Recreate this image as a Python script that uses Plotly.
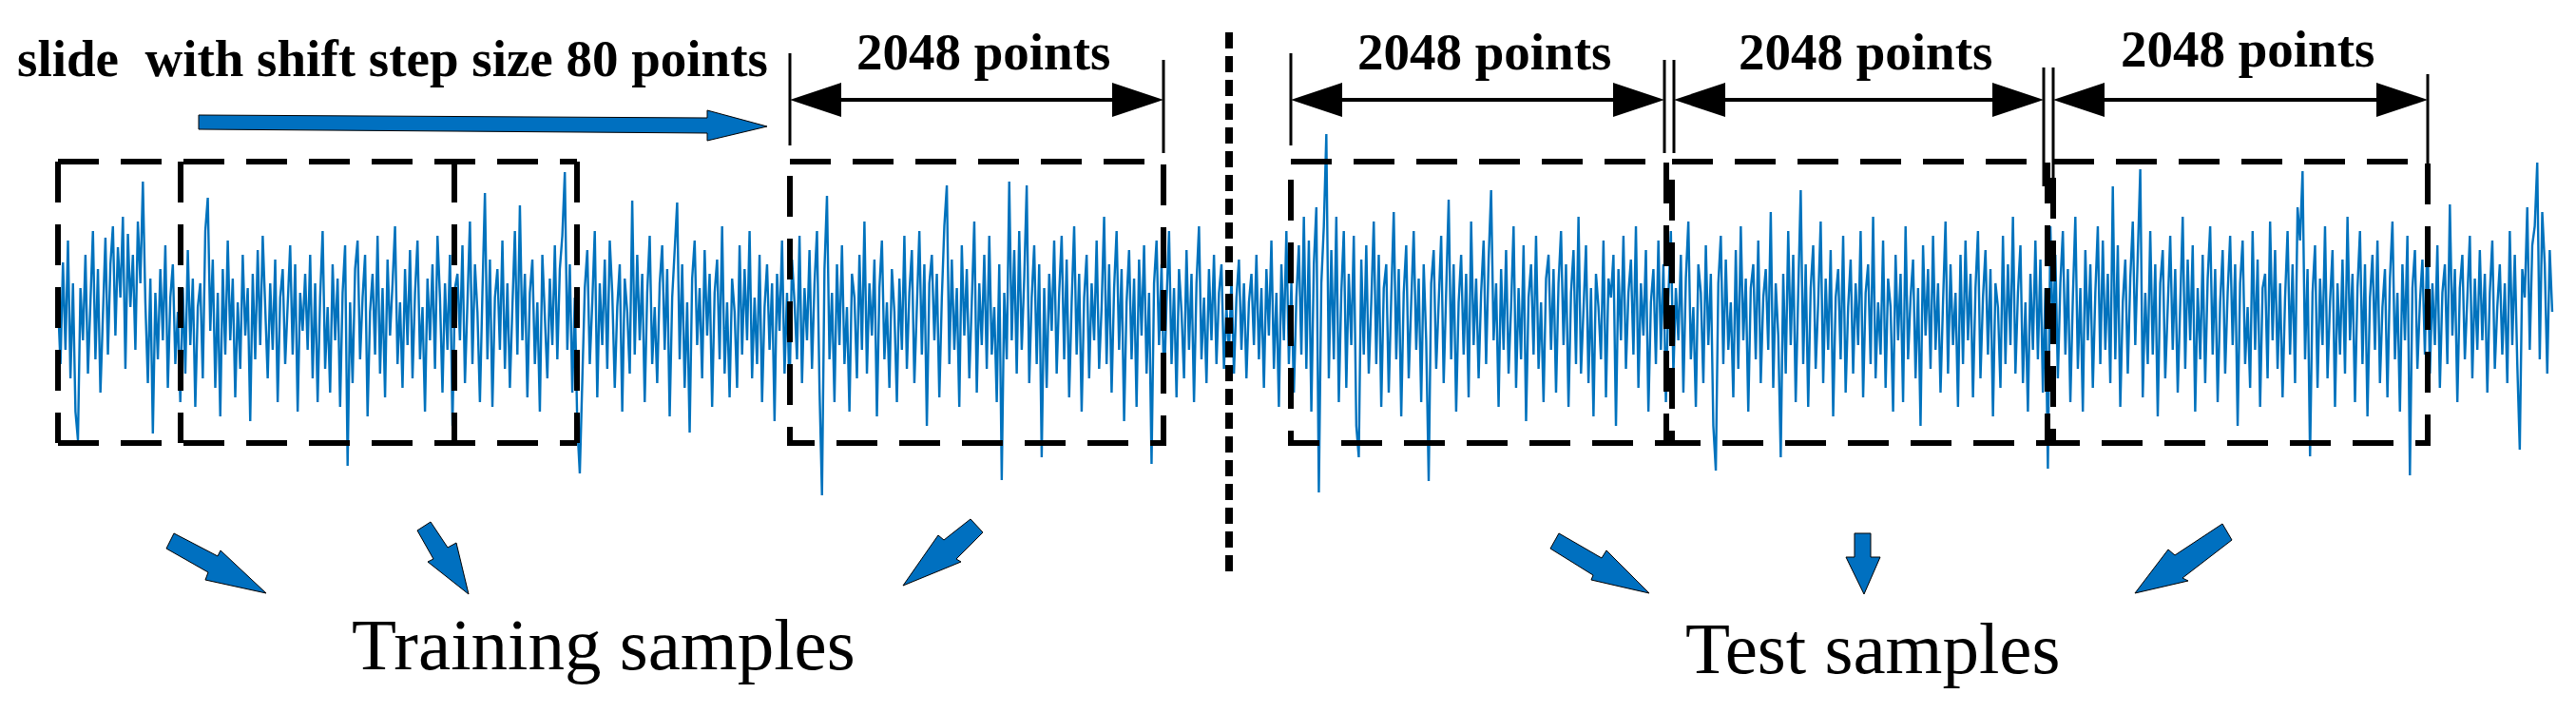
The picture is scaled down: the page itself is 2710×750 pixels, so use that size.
"""Sliding-window sample split diagram (training / test windows on a vibration signal)."""

import plotly.graph_objects as go

W, H = 2710, 750

# Signal amplitude, in screen-pixel offsets from the trace centre
amp_a = [20, -45, 62, -30, 85, -60, 40, -95, -125, 35,
         -20, 70, -55, 30, 95, -40, 55, -75, 10, 88,
         -35, 60, 100, -15, 78, 25, 110, -50, 92, 15,
         70, -30, 105, 40, 147, 20, -65, 45, -118, 30,
         -40, 55, -20, 80, -70, 25, 60, -45, 10, -85,
         35, -55, 75, -25, 45, -90, 15, 40, -60, 95,
         130, -10, 65, -70, 30, -100, 55, -35, 85, -20,
         45, -80, 20, -50, 70, -15, 35, -105, 50, -40,
         75, -25, 90, 10, -60, 40, -30, 65, -85, 25,
         55, -45, 20, 80, -35, 60, -95, 30, -10, 50]
amp_b = [-30, 70, -60, 40, -85, 25, 95, -50, 15, -75,
         60, -20, 45, -90, 30, 80, -152, 20, -65, 55,
         85, -40, 25, 70, -100, 10, 50, -35, 90, -55,
         35, -80, 65, -15, 40, 100, -45, 20, -70, 55,
         -25, 75, -60, 30, 85, -40, 15, -95, 45, -20,
         60, -50, 90, 25, -75, 40, -30, 70, -110, 35,
         50, -20, 80, -65, 20, 105, -45, 60, 10, -85,
         30, 135, -40, 65, -90, 25, 55, -30, 85, -50,
         40, -70, 15, 95, -35, 122, -20, 50, -80, 30,
         65, -45, 20, -95, 70, 10, -60, 45, -25, 80]
amp_c = [-40, 55, 90, 157, -30, 60, -75, 25, -110, -160,
         -60, 35, 75, -45, 20, 95, -80, 40, -25, 65,
         -50, 85, 30, -70, 15, 60, -95, 45, 10, -55,
         127, -35, 70, -20, 50, -85, 30, 90, -45, 15,
         -65, 40, 80, -30, 55, -100, 25, 70, 125, -40,
         60, -70, 20, -117, 45, 85, -25, 35, -60, 75,
         -15, 50, -90, 30, 65, -40, 100, -55, 20, -80,
         45, 10, -70, 80, -35, 55, -20, 95, -60, 25,
         -45, 70, -85, 15, 60, -30, 40, -105, 50, -10,
         85, -55, 30, -75, 65, 20, -40, 90, -65, 35]
amp_d = [-20, 75, -50, 40, 95, -70, -183, 55, 132, -40,
         30, -85, 60, -25, 80, -45, 15, -95, 50, 25,
         -60, 70, -30, 105, -55, 40, -15, 65, -100, 35,
         85, -40, 20, -70, 55, 10, -85, 45, -30, 90,
         -50, 30, 75, -65, 15, 95, -35, 60, -110, 40,
         70, -20, 50, -80, 25, 100, 143, -45, 65, -30,
         35, -90, 80, -15, 55, -60, 20, 105, -75, 40,
         -25, 70, -50, 90, -35, 15, -85, 60, -167, 30,
         -40, 147, -20, 75, -55, 95, -30, 45, 143, -65,
         25, 80, -45, 60, -143, 35, -70, 50, -10, 85]
amp_e = [-55, 30, 90, -40, 65, -80, 20, 100, -35, 50,
         -95, 25, 70, -60, 40, -20, 85, -50, 15, 110,
         -45, 60, -75, 35, 95, -30, 55, -105, 20, 75,
         -40, 45, -90, 65, -15, 80, -55, 30, -150, 40,
         85, -25, 60, -70, 20, 95, -45, 35, -80, 55,
         10, -60, 75, -30, 50, -85, 40, 100, -40, 25,
         -65, 55, -20, 70, -45, 30, 60, -50, 15, -35,
         45, -55, 25, 65, -30, 40, -60, 20, 50, -25,
         70, -40, 35, -70, 55, -15, 85, -50, 30, -90,
         60, -20, 95, -45, 40, -75, 25, 80, -35, 110]
amp_f = [-50, 85, -95, 60, 120, -180, 40, 100, 197, -60,
         75, -40, 110, -85, 30, 95, -70, 50, -25, 90,
         -110, -143, 65, -35, 80, -55, 20, 105, -45, 70,
         -90, 35, 60, -75, 25, 115, -40, 55, -100, 30,
         80, -60, 20, 95, -30, 45, -85, 60, -20, -168,
         40, 75, -50, 25, 90, -65, 35, 128, -40, 60,
         -95, 20, 70, -35, 50, -80, 105, -25, 45, -60,
         30, 85, -45, 65, 138, -20, 40, -90, 55, -30,
         75, -55, 15, 100, -70, 35, -40, 80, -105, 25,
         60, -35, 90, -50, 20, -85, 45, 70, -30, 55]
amp_g = [-75, 40, 95, -25, 60, -90, 30, 75, -45, 110,
         -55, 20, 80, -65, 35, -100, 50, 15, -40, 85,
         -80, 45, 25, 70, -110, 55, -20, 90, -50, 30,
         65, -35, 100, -70, 40, -15, 75, -95, 20, 55,
         -45, 85, -30, 60, -85, 25, 95, -55, 35, -20,
         70, -75, 45, 105, -40, 15, -90, 60, 30, -65,
         80, -25, 50, -110, -157, 40, 90, -45, 65, -30,
         20, -80, 75, -50, 100, -20, 45, -95, 35, 60,
         -40, 85, -65, 25, 55, -30, 115, -70, 40, -15,
         -143, 50, -55, 95, -25, 70, -85, 30, 138, -45]
amp_h = [60, -90, 35, 80, -50, 20, 105, -65, 45, -30,
         75, -100, 25, 55, -40, 90, -75, 15, 65, -55,
         40, -25, 95, -80, 30, 60, -45, 110, -60, 20,
         -35, 85, -70, 45, 15, -95, 70, -20, 50, -85,
         100, -40, 25, 65, -60, 35, -110, 80, -15, 55,
         -50, 90, -30, 40, -75, 20, 105, -55, 60, -25,
         30, -90, 70, -45, 85, -20, 50, -80, 35, 95,
         -60, 25, 75, -35, 55, -100, 40, 15, -70, 90,
         -45, 60, -25, 110, -55, 30, 80, -65, 20, -95,
         50, -30, 85, -40, 65, -75, 35, -155, 100, -20]
amp_i = [70, -60, 40, 95, -35, 55, -85, 25, 110, -50,
         35, -95, 75, -20, 60, -70, 30, 100, -45, 85,
         -30, 50, -65, 142, -40, 80, -90, 20, 65, -55,
         45, 105, -25, 70, 160, -80, 30, -45, 95, -35,
         60, -100, 40, 75, -60, 15, 90, -30, 55, -75,
         25, 110, -50, 65, -20, 80, -95, 35, -40, 70,
         -65, 45, 100, -35, 55, -85, 20, 75, -55, 30,
         90, -25, 60, -110, 40, 85, -45, 15, -70, 95,
         -30, 65, -90, 35, 50, -60, 105, -20, 75, -50,
         40, -80, 25, 95, -35, 60, -65, 120, 85, 158]
amp_j = [-40, 55, -142, 30, 80, -70, 45, -25, 100, -60,
         20, 75, -90, 40, -35, 65, -55, 110, -20, 50,
         -85, 35, 95, -45, 60, -100, 25, 70, -30, 85,
         -65, 15, 55, -80, 45, 105, -40, 30, -95, 60,
         -20, 90, -162, 35, 75, -50, 20, 65, -35, 95,
         -55, 40, -25, 80, -70, 30, 60, -45, 123, -15,
         55, -85, 35, 70, -40, 20, 90, -60, 45, -30,
         75, -20, 50, -75, 30, 85, -50, 15, 60, -35,
         40, -65, 95, -25, 70, -45, -135, 55, 25, 120,
         -30, 80, 100, 167, -40, 115, 60, -55, 75, 10]

window_label = "2048 points"
slide_note = "slide\u00a0 with shift step size 80 points"
group_labels = ["Training samples", "Test samples"]

signal = amp_a + amp_b + amp_c + amp_d + amp_e + amp_f + amp_g + amp_h + amp_i + amp_j
samples = list(range(len(signal)))

# where the trace sits on the canvas (pixels)
SIG_LEFT, SIG_RIGHT, SIG_MID = 53, 2677, 330
step = (SIG_RIGHT - SIG_LEFT) / (len(signal) - 1)

BLUE = "#0070C0"
SERIF = "Times New Roman, Liberation Serif, serif"


def px(x):
    return x / W


def py(y):
    return 1 - y / H


def poly(points):
    return "M " + " L ".join(f"{px(x):.5f},{py(y):.5f}" for x, y in points) + " Z"


fig = go.Figure()
fig.add_trace(go.Scatter(
    x=samples,
    y=signal,
    mode="lines",
    line=dict(color="#0072BD", width=2.4),
    hoverinfo="skip",
    showlegend=False,
))

shapes = []


def seg(x0, y0, x1, y1, width, dash="solid"):
    shapes.append(dict(type="line", xref="paper", yref="paper",
                       x0=px(x0), y0=py(y0), x1=px(x1), y1=py(y1),
                       line=dict(color="black", width=width, dash=dash)))


BOX_DASH = "43px,23px"
BOX_TOP, BOX_BOT = 162, 458

# overlapping training windows on the left
seg(53, BOX_TOP, 599, BOX_TOP, 6, BOX_DASH)
seg(53, BOX_BOT, 599, BOX_BOT, 6, BOX_DASH)
for xv in [53, 182, 470, 599]:
    seg(xv, BOX_TOP, xv, BOX_BOT, 6, BOX_DASH)

# one training window + three test windows
for x0, x1 in [(823, 1216), (1350, 1745), (1751, 2146), (2152, 2546)]:
    shapes.append(dict(type="rect", xref="paper", yref="paper",
                       x0=px(x0), y0=py(BOX_TOP), x1=px(x1), y1=py(BOX_BOT),
                       line=dict(color="black", width=6, dash=BOX_DASH)))

# dotted separator between training and test parts
seg(1285, 26, 1285, 596, 8, "17px,8px")

# dimension brackets "2048 points"
ARR_Y = 97
brackets = [(823, 1216), (1350, 1743), (1753, 2142), (2152, 2546)]
for xl, xr in brackets:
    seg(xl + 40, ARR_Y, xr - 40, ARR_Y, 4)
    shapes.append(dict(type="path", xref="paper", yref="paper",
                       path=poly([(xl, ARR_Y), (xl + 54, ARR_Y - 18), (xl + 54, ARR_Y + 18)]),
                       fillcolor="black", line=dict(width=0)))
    shapes.append(dict(type="path", xref="paper", yref="paper",
                       path=poly([(xr, ARR_Y), (xr - 54, ARR_Y - 18), (xr - 54, ARR_Y + 18)]),
                       fillcolor="black", line=dict(width=0)))

for xv, y0, y1 in [(823, 48, 145), (1216, 55, 153), (1350, 48, 145), (1743, 55, 153),
                   (1753, 55, 153), (2142, 63, 188), (2152, 63, 188), (2546, 70, 188)]:
    seg(xv, y0, xv, y1, 3)

# block arrows
block_arrows = [
    [(201, 113), (736, 116), (736, 108), (799, 125), (736, 140), (736, 132), (201, 128)],
    [(175, 553), (221, 577), (224, 571), (272, 616), (208, 602), (211, 594), (167, 569)],
    [(445, 541), (463, 568), (472, 563), (485, 617), (442, 583), (448, 580), (431, 550)],
    [(1013, 538), (985, 560), (979, 555), (942, 608), (1003, 583), (998, 580), (1026, 552)],
    [(1632, 553), (1677, 579), (1682, 571), (1727, 616), (1666, 602), (1668, 597), (1623, 569)],
    [(1943, 553), (1960, 553), (1960, 578), (1970, 578), (1953, 617), (1934, 578), (1943, 578)],
    [(2330, 543), (2280, 576), (2273, 570), (2238, 616), (2294, 603), (2288, 600), (2340, 560)],
]
for pts in block_arrows:
    shapes.append(dict(type="path", xref="paper", yref="paper", path=poly(pts),
                       fillcolor=BLUE, line=dict(color="black", width=1)))

annotations = []


def label(text, x, y, size, bold=False):
    annotations.append(dict(
        text=f"<b>{text}</b>" if bold else text,
        xref="paper", yref="paper", x=px(x), y=py(y),
        xanchor="center", yanchor="middle", showarrow=False,
        font=dict(family=SERIF, size=size, color="black"),
    ))


label(slide_note, 405, 54, 55, bold=True)
for i, (xl, xr) in enumerate(brackets):
    label(window_label, (xl + xr) / 2 + 7, 47 if i < 3 else 44, 55, bold=True)
label(group_labels[0], 627, 670, 77)
label(group_labels[1], 1962, 674, 77)

fig.update_layout(
    width=W,
    height=H,
    margin=dict(l=0, r=0, t=0, b=0),
    paper_bgcolor="white",
    plot_bgcolor="white",
    shapes=shapes,
    annotations=annotations,
    xaxis=dict(visible=False, range=[-SIG_LEFT / step, (W - SIG_LEFT) / step]),
    yaxis=dict(visible=False, range=[-(H - SIG_MID), SIG_MID]),
)

fig.write_html("out.html")
